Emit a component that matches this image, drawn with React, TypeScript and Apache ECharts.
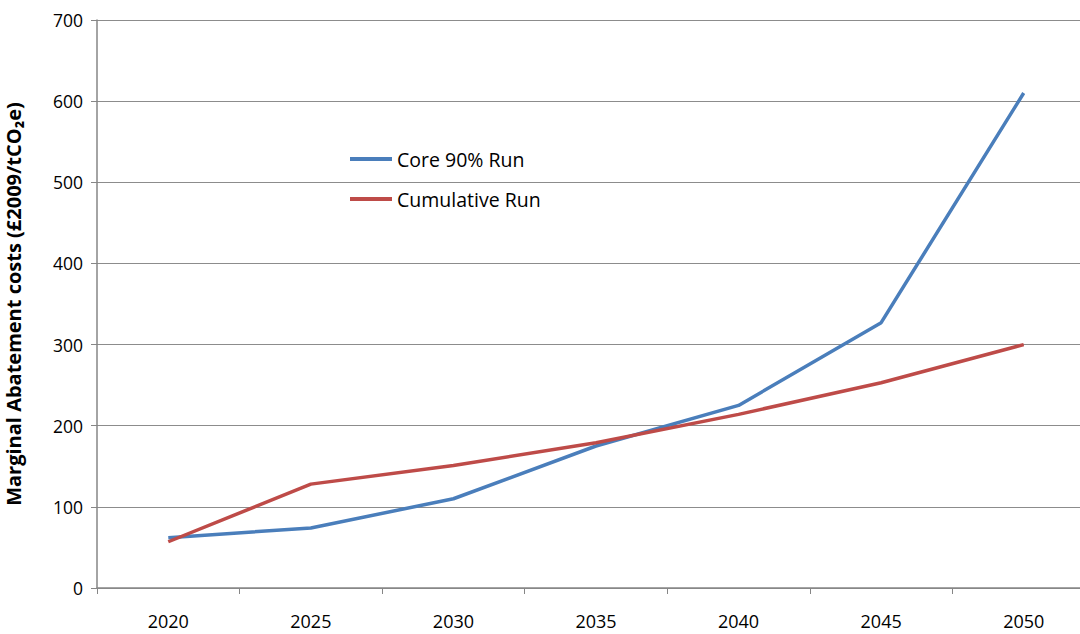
import React, { useEffect, useRef } from "react";
import * as echarts from "echarts";

const years = ["2020", "2025", "2030", "2035", "2040", "2045", "2050"];
const coreRun = [62, 74, 110, 175, 225, 327, 610];
const cumulativeRun = [57, 128, 151, 179, 214, 253, 300];
const yTicks = { min: 0, max: 700, interval: 100 };

const FONT = "'Open Sans', 'Noto Sans', sans-serif";

export default function App() {
  const ref = useRef<HTMLDivElement>(null);
  useEffect(() => {
    if (!ref.current) return;
    const chart = echarts.init(ref.current, undefined, { renderer: "svg" });
    chart.setOption({
      animation: false,
      backgroundColor: "#ffffff",
      grid: {
        left: 97,
        top: 20,
        width: 998,
        height: 568,
        containLabel: false,
        outerBoundsMode: "none",
      },
      legend: {
        orient: "vertical",
        left: 345,
        top: 144,
        itemWidth: 42,
        itemHeight: 4,
        itemGap: 20,
        icon: "rect",
        textStyle: { fontFamily: FONT, fontSize: 19.5, color: "#000" },
        data: ["Core 90% Run", "Cumulative Run"],
      },
      xAxis: {
        type: "category",
        data: years,
        boundaryGap: true,
        axisLine: { lineStyle: { color: "#868686", width: 1.5 } },
        axisTick: { show: true, length: 6, lineStyle: { color: "#868686" } },
        axisLabel: { fontFamily: FONT, fontSize: 18, color: "#000", margin: 24 },
        splitLine: { show: false },
      },
      yAxis: {
        type: "value",
        min: yTicks.min,
        max: yTicks.max,
        interval: yTicks.interval,
        name: "Marginal Abatement costs (£2009/tCO₂e)",
        nameLocation: "middle",
        nameGap: 74,
        nameTextStyle: { fontFamily: FONT, fontSize: 20, fontWeight: "bold", color: "#000" },
        axisLine: { show: true, lineStyle: { color: "#868686", width: 1.5 } },
        axisTick: { show: true, length: 6, lineStyle: { color: "#868686" } },
        axisLabel: { fontFamily: FONT, fontSize: 17.5, color: "#000", margin: 14 },
        splitLine: { show: true, lineStyle: { color: "#8c8c8c", width: 1 } },
      },
      series: [
        {
          name: "Core 90% Run",
          type: "line",
          data: coreRun,
          symbol: "none",
          lineStyle: { color: "#4a7ebb", width: 3.5 },
          itemStyle: { color: "#4a7ebb" },
          z: 3,
        },
        {
          name: "Cumulative Run",
          type: "line",
          data: cumulativeRun,
          symbol: "none",
          lineStyle: { color: "#be4b48", width: 3.5 },
          itemStyle: { color: "#be4b48" },
          z: 4,
        },
      ],
    });
    return () => chart.dispose();
  }, []);
  return (
    <div
      ref={ref}
      style={{ position: "fixed", left: 0, top: 0, width: 1080, height: 634 }}
    />
  );
}
